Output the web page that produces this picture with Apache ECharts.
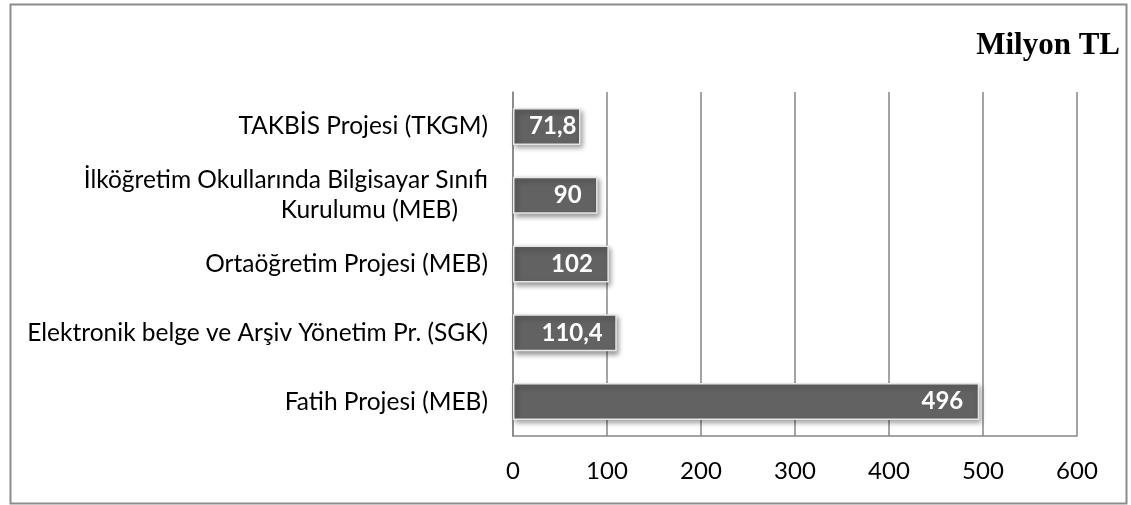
<!DOCTYPE html>
<html>
<head>
<meta charset="utf-8">
<script src="https://cdn.jsdelivr.net/npm/echarts@6/dist/echarts.min.js"></script>
<style>html,body{margin:0;padding:0;background:#fff}#c{width:1131px;height:505px}</style>
</head>
<body>
<div id="c"></div>
<script>
const categories = [
  'Fatih Projesi (MEB)',
  'Elektronik belge ve Arşiv Yönetim Pr. (SGK)',
  'Ortaöğretim Projesi (MEB)',
  'İlköğretim Okullarında Bilgisayar Sınıfı\nKurulumu (MEB)',
  'TAKBİS Projesi (TKGM)'
];
const values = [496, 110.4, 102, 90, 71.8];
const xTicks = [0, 100, 200, 300, 400, 500, 600];
const titleText = 'Milyon TL';

// label placement styling (not data)
const labelDistances = [16, 14, 16, 16, 4];

const chart = echarts.init(document.getElementById('c'));
chart.setOption({
  animation: false,
  backgroundColor: '#fff',
  graphic: [{
    type: 'rect', left: 8, top: 2,
    shape: { width: 1116, height: 499 },
    style: { fill: 'none', stroke: '#8c8c8c', lineWidth: 2 }
  }],
  title: {
    text: titleText, right: 6, top: 25,
    textStyle: { fontFamily: 'Liberation Serif', fontWeight: 'bold', fontSize: 31, color: '#000' }
  },
  grid: { left: 513, right: 54, top: 92, bottom: 69 },
  xAxis: {
    type: 'value', min: xTicks[0], max: xTicks[xTicks.length - 1], interval: 100,
    axisLine: { show: true, lineStyle: { color: '#868686', width: 1.5 } },
    axisTick: { show: false },
    splitLine: { show: true, lineStyle: { color: '#868686', width: 1.5 } },
    axisLabel: { margin: 23, fontFamily: 'Lato', fontSize: 24, color: '#000' }
  },
  yAxis: {
    type: 'category', data: categories,
    axisLine: { show: true, lineStyle: { color: '#868686', width: 1.5 } },
    axisTick: { show: false },
    axisLabel: {
      margin: 25, fontFamily: 'Lato', fontSize: 24.5, color: '#000', lineHeight: 30,
      formatter: function (v) {
        const parts = v.split('\n');
        if (parts.length > 1) return parts[0] + '\n{b|' + parts[1] + '}';
        return v;
      },
      rich: { b: { fontFamily: 'Lato', fontSize: 24.5, color: '#000', lineHeight: 30, padding: [0, 30, 0, 0] } }
    }
  },
  series: [{
    type: 'bar',
    data: values.map(function (v, i) { return { value: v, label: { distance: labelDistances[i] } }; }),
    barWidth: 37,
    itemStyle: {
      color: '#626262', borderColor: '#e6e6e6', borderWidth: 1.5,
      shadowColor: 'rgba(0,0,0,0.4)', shadowBlur: 5, shadowOffsetX: 2, shadowOffsetY: 3
    },
    label: {
      show: true, position: 'insideRight', distance: 16,
      color: '#fff', fontFamily: 'Lato', fontWeight: 'bold', fontSize: 24,
      formatter: function (p) { return String(p.value).replace('.', ','); }
    }
  }]
});
</script>
</body>
</html>
